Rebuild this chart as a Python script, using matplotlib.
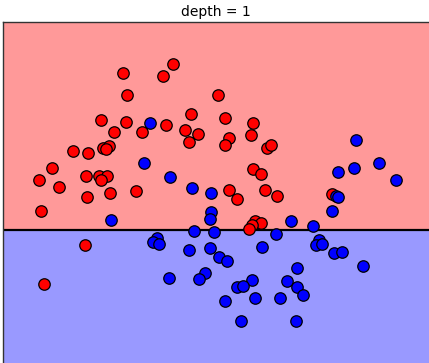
import matplotlib
matplotlib.use("Agg")
import matplotlib.pyplot as plt
import numpy as np

# точки класса 0 (красные) и класса 1 (синие)
red_x = [-0.42, -0.92, -0.52, -0.88, 0.03, -1.14, -0.89, -0.24, -1.01, -0.73,
         -0.49, -0.30, -0.17, -0.26, -1.42, -1.27, -1.12, -1.06, -1.09, -1.63,
         -1.29, -1.16, -1.08, -1.14, -1.76, -1.56, -1.28, -1.05, -0.79, -1.74,
         -1.30, -1.71, 0.10, 0.38, 0.14, 0.10, 0.36, 0.52, 0.56, 0.38,
         0.46, 0.14, 0.22, 0.50, 0.62, 1.17, 0.40, 0.46, 0.37, 0.34]
red_y = [1.66, 1.57, 1.54, 1.35, 1.35, 1.10, 1.08, 1.16, 0.98, 0.98,
         1.05, 1.00, 0.96, 0.88, 0.79, 0.77, 0.82, 0.84, 0.81, 0.62,
         0.54, 0.54, 0.54, 0.50, 0.50, 0.43, 0.33, 0.37, 0.39, 0.19,
         -0.15, -0.54, 1.12, 1.07, 0.92, 0.85, 0.95, 0.82, 0.85, 0.61,
         0.56, 0.40, 0.31, 0.40, 0.34, 0.36, 0.09, 0.07, 0.05, 0.01]

blue_x = [-0.65, -0.71, -0.45, 1.41, 1.23, 1.39, 1.64, 1.81, -0.23, -0.04,
          -1.04, -0.04, -0.05, -0.21, -0.01, -0.58, -0.62, -0.56, -0.26, -0.05,
          -0.46, -0.10, -0.16, 1.21, 1.23, 1.17, 0.76, 0.98, 0.61, 0.47,
          1.04, 1.01, 1.07, 1.19, 1.27, 1.48, 0.04, 0.12, 0.82, 0.37,
          0.22, 0.28, 0.72, 0.82, 0.88, 0.10, 0.40, 0.65, 0.26, 0.81]
blue_y = [1.07, 0.67, 0.53, 0.90, 0.58, 0.62, 0.67, 0.50, 0.42, 0.37,
          0.10, 0.18, 0.11, -0.005, -0.02, -0.08, -0.12, -0.14, -0.20, -0.18,
          -0.48, -0.43, -0.49, 0.34, 0.33, 0.19, 0.09, 0.04, -0.04, -0.17,
          -0.10, -0.15, -0.14, -0.23, -0.22, -0.36, -0.27, -0.31, -0.38, -0.50,
          -0.57, -0.56, -0.51, -0.57, -0.65, -0.71, -0.68, -0.68, -0.91, -0.91]

threshold = 0.0  # порог дерева глубины 1 по второй координате
xlim = (-2.12, 2.14)
ylim = (-1.33, 2.08)

fig = plt.figure(figsize=(4.29, 3.63), dpi=100)
ax = fig.add_axes([3 / 429, 0.0, 426 / 429, 341 / 363])

ax.axhspan(threshold, ylim[1], color='#ff9999', zorder=0)
ax.axhspan(ylim[0], threshold, color='#9999ff', zorder=0)
ax.axhline(threshold, color='k', lw=1.6, zorder=1)

ax.scatter(red_x, red_y, c='#ff0000', s=68, edgecolors='k', linewidths=0.9, zorder=2)
ax.scatter(blue_x, blue_y, c='#0000ff', s=68, edgecolors='k', linewidths=0.9, zorder=2)

ax.set_xlim(*xlim)
ax.set_ylim(*ylim)
ax.set_xticks([])
ax.set_yticks([])
for side in ['right', 'bottom']:
    ax.spines[side].set_visible(False)
for side in ['left', 'top']:
    ax.spines[side].set_linewidth(1.0)
    ax.spines[side].set_color('#333333')
ax.set_title('depth = 1', fontsize=10, pad=4)

fig.savefig('out.png', dpi=100)
